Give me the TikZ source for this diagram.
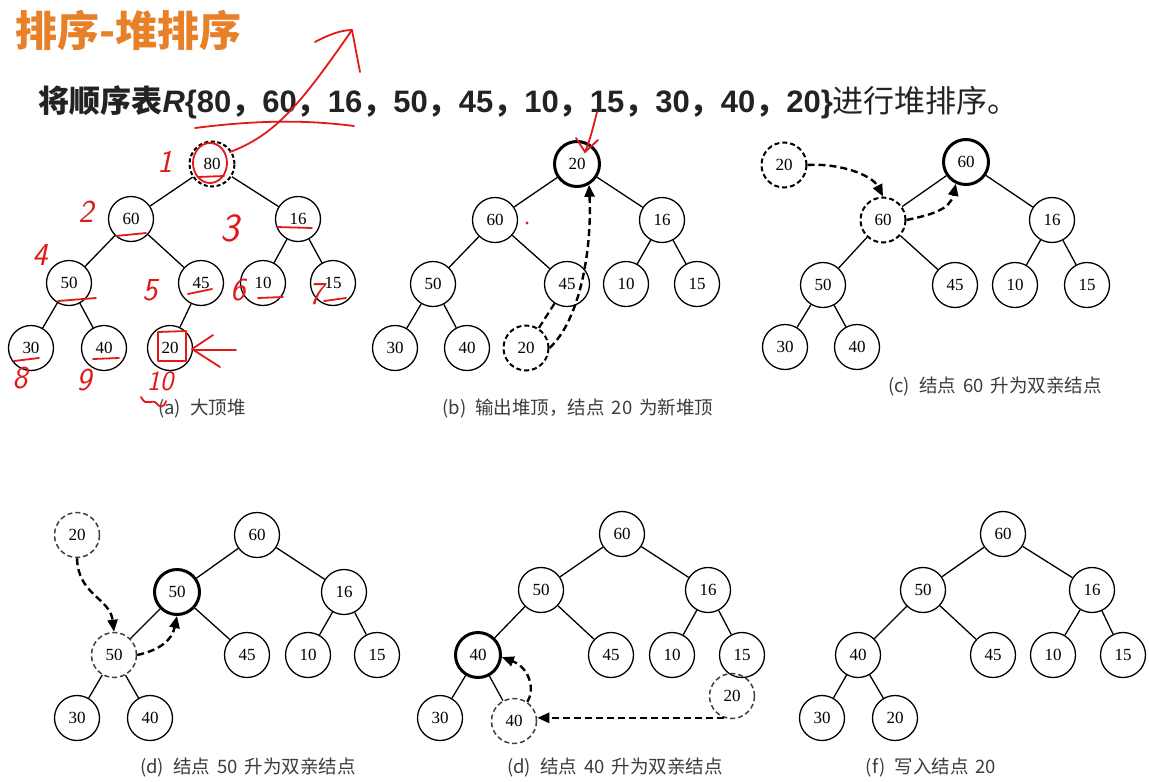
\documentclass[tikz,border=0pt]{standalone}
\usepackage{fontspec}
\setmainfont{Liberation Serif}
\newfontfamily\cjk{Noto Sans CJK SC}
\newfontfamily\ar{Liberation Sans}
\usetikzlibrary{arrows.meta}
\definecolor{ttl}{RGB}{232,128,40}
\definecolor{txt}{RGB}{35,35,35}
\definecolor{cap}{RGB}{60,60,60}
\definecolor{pen}{RGB}{225,25,25}
\newcommand{\cm}{{\cjk ，}}
\newcommand{\gp}{\hspace{9pt}}
\newcommand{\sg}{\hspace{7pt}}
\begin{document}
\begin{tikzpicture}[x=1pt,y=-1pt,
  nd/.style={circle,draw,minimum size=45pt,inner sep=0pt,line width=1.3pt,font=\fontsize{17}{17}\selectfont},
  thk/.style={line width=3pt},
  dnd/.style={dash pattern=on 5pt off 3pt,draw=black!80},
  lnk/.style={line width=1.3pt},
  arr/.style={line width=2.4pt,dash pattern=on 7pt off 4pt,-{Triangle[length=12pt,width=10pt]}},
  capt/.style={text=cap,font=\cjk\fontsize{18.5}{18.5}\selectfont},
  redl/.style={draw=pen,line width=1.8pt,line cap=round,line join=round},
  redt/.style={text=pen,font=\sffamily\itshape\fontsize{32}{32}\selectfont}]
\useasboundingbox (0,0) rectangle (1149,782);
\fill[white] (0,0) rectangle (1149,782);

% titles
\node[anchor=west,text=ttl,font=\cjk\bfseries\fontsize{42}{42}\selectfont] (title) at (12,30) {排序-堆排序};
\node[anchor=west,text=txt,font=\fontsize{31}{31}\selectfont] (sub) at (35,102)
 {{\cjk\bfseries 将顺序表}{\ar\bfseries\itshape R}{\ar\bfseries \{80\cm 60\cm 16\cm 50\cm 45\cm 10\cm 15\cm 30\cm 40\cm 20\}}{\cjk 进行堆排序。}};

% ---------- (a)
\node[nd,line width=2pt,dash pattern=on 4pt off 2.5pt] (a1) at (212,164) {80};
\node[nd] (a2) at (131,219) {60};
\node[nd] (a3) at (298,219) {16};
\node[nd] (a4) at (69,283) {50};
\node[nd] (a5) at (201,283) {45};
\node[nd] (a6) at (263,283) {10};
\node[nd] (a7) at (333,283) {15};
\node[nd] (a8) at (31,348) {30};
\node[nd] (a9) at (104,348) {40};
\node[nd] (a10) at (170,348) {20};
\foreach \p/\c in {a1/a2,a1/a3,a2/a4,a2/a5,a3/a6,a3/a7,a4/a8,a4/a9,a5/a10} \draw[lnk] (\p) -- (\c);
\node[capt] (capa) at (202,409) {(a)\gp 大顶堆};

% ---------- (b)
\node[nd,thk] (b1) at (577,164) {20};
\node[nd] (b2) at (495,220) {60};
\node[nd] (b3) at (662,220) {16};
\node[nd] (b4) at (433,284) {50};
\node[nd] (b5) at (567,284) {45};
\node[nd] (b6) at (626,284) {10};
\node[nd] (b7) at (697,284) {15};
\node[nd] (b8) at (395,348) {30};
\node[nd] (b9) at (467,348) {40};
\node[nd,dnd,line width=2pt,draw=black] (b10) at (526,348) {20};
\foreach \p/\c in {b1/b2,b1/b3,b2/b4,b2/b5,b3/b6,b3/b7,b4/b8,b4/b9} \draw[lnk] (\p) -- (\c);
\draw[line width=2.2pt,dash pattern=on 7pt off 4pt] (b5) -- (b10);
\draw[arr] (b10.east) .. controls (580,320) and (592,250) .. (b1.-60);
\node[capt] (capb) at (578,408) {(b)\gp 输出堆顶，结点\sg 20\sg 为新堆顶};

% ---------- (c)
\node[nd,dnd,line width=2pt,draw=black] (c0) at (784,165) {20};
\node[nd,thk] (c1) at (966,162) {60};
\node[nd,dnd,line width=2pt,draw=black] (c2) at (883,220) {60};
\node[nd] (c3) at (1052,220) {16};
\node[nd] (c4) at (823,285) {50};
\node[nd] (c5) at (955,285) {45};
\node[nd] (c6) at (1015,285) {10};
\node[nd] (c7) at (1087,285) {15};
\node[nd] (c8) at (785,347) {30};
\node[nd] (c9) at (857,347) {40};
\foreach \p/\c in {c1/c2,c1/c3,c2/c4,c2/c5,c3/c6,c3/c7,c4/c8,c4/c9} \draw[lnk] (\p) -- (\c);
\draw[arr] (c0.east) .. controls (840,163) and (872,175) .. (c2.north);
\draw[arr] (c2.east) .. controls (930,215) and (950,210) .. (c1.-115);
\node[capt] (capc) at (995,387) {(c)\gp 结点\sg 60\sg 升为双亲结点};

% ---------- (d) 50
\node[nd,dnd,line width=1.5pt,draw=black!75] (d0) at (77,535) {20};
\node[nd] (d1) at (257,535) {60};
\node[nd,thk] (d2) at (177,592) {50};
\node[nd] (d3) at (344,592) {16};
\node[nd,dnd,line width=1.5pt,draw=black!75] (d4) at (114,655) {50};
\node[nd] (d5) at (247,655) {45};
\node[nd] (d6) at (308,655) {10};
\node[nd] (d7) at (377,655) {15};
\node[nd] (d8) at (77,718) {30};
\node[nd] (d9) at (150,718) {40};
\foreach \p/\c in {d1/d2,d1/d3,d2/d4,d2/d5,d3/d6,d3/d7,d4/d8,d4/d9} \draw[lnk] (\p) -- (\c);
\draw[arr] (d0.south) .. controls (78,595) and (110,598) .. (d4.north);
\draw[arr] (d4.east) .. controls (160,650) and (172,640) .. (d2.south);
\node[capt] (capd) at (248,768) {(d)\gp 结点\sg 50\sg 升为双亲结点};

% ---------- (d) 40
\node[nd] (e1) at (622,534) {60};
\node[nd] (e2) at (541,590) {50};
\node[nd] (e3) at (708,590) {16};
\node[nd,thk] (e4) at (478,655) {40};
\node[nd] (e5) at (611,655) {45};
\node[nd] (e6) at (672,655) {10};
\node[nd] (e7) at (742,655) {15};
\node[nd,dnd,line width=1.5pt,draw=black!75] (e10) at (732,696) {20};
\node[nd] (e8) at (440,718) {30};
\node[nd,dnd,line width=1.5pt,draw=black!75] (e9) at (514,721) {40};
\foreach \p/\c in {e1/e2,e1/e3,e2/e4,e2/e5,e3/e6,e3/e7,e4/e8,e4/e9} \draw[lnk] (\p) -- (\c);
\draw[arr] (e10.250) -- (e10.250 -| e9.east);
\draw[arr] (e9.55) .. controls (535,690) and (530,668) .. (e4.-5);
\node[capt] (cape) at (615,768) {(d)\gp 结点\sg 40\sg 升为双亲结点};

% ---------- (f)
\node[nd] (f1) at (1003,534) {60};
\node[nd] (f2) at (923,590) {50};
\node[nd] (f3) at (1092,590) {16};
\node[nd] (f4) at (858,655) {40};
\node[nd] (f5) at (993,655) {45};
\node[nd] (f6) at (1053,655) {10};
\node[nd] (f7) at (1123,655) {15};
\node[nd] (f8) at (822,718) {30};
\node[nd] (f9) at (895,718) {20};
\foreach \p/\c in {f1/f2,f1/f3,f2/f4,f2/f5,f3/f6,f3/f7,f4/f8,f4/f9} \draw[lnk] (\p) -- (\c);
\node[capt] (capf) at (931,768) {(f)\gp 写入结点\sg 20};

% ---------- red pen annotations
\draw[redl] (195,128) .. controls (250,121) and (300,119) .. (354,126);
\draw[redl] (230,152) .. controls (275,135) and (300,105) .. (352,30);
\draw[redl] (315,42) .. controls (330,34) and (342,30) .. (352,30) -- (360,72);
\draw[redl] (210,163) ellipse (17 and 20);
\draw[redl] (198,177) -- (224,176);
\draw[redl] (116,236) -- (146,233);
\draw[redl] (277,227) -- (312,228);
\draw[redl] (58,301) -- (96,298);
\draw[redl] (188,294) -- (212,289);
\draw[redl] (258,298) -- (283,297);
\draw[redl] (324,301) -- (346,298);
\draw[redl] (14,361) -- (39,358);
\draw[redl] (93,359) -- (119,358);
\draw[redl] (158,332) -- (186,331) -- (186,361) -- (158,361) -- cycle;
\draw[redl] (236,350) -- (193,350);
\draw[redl] (213,335) -- (192,349) -- (220,367);
\draw[redl] (141,397) .. controls (147,409) and (152,396) .. (158,405) .. controls (164,410) and (166,401) .. (166,401);
\node[redt] (n1) at (165,162) {1};
\node[redt] (n2) at (86,212) {2};
\node[redt,font=\sffamily\itshape\fontsize{40}{40}\selectfont] (n3) at (230,228) {3};
\node[redt] (n4) at (40,255) {4};
\node[redt] (n5) at (150,290) {5};
\node[redt] (n6) at (238,290) {6};
\node[redt] (n7) at (316,294) {7};
\node[redt] (n8) at (20,378) {8};
\node[redt] (n9) at (84,380) {9};
\node[redt,font=\sffamily\itshape\fontsize{28}{28}\selectfont] (n10) at (160,381) {10};
\draw[redl] (597,112) .. controls (593,128) and (590,140) .. (585,152);
\draw[redl] (576,138) -- (585,152) -- (598,140);
\fill[pen] (527,223) circle (1.6);
\end{tikzpicture}
\end{document}
